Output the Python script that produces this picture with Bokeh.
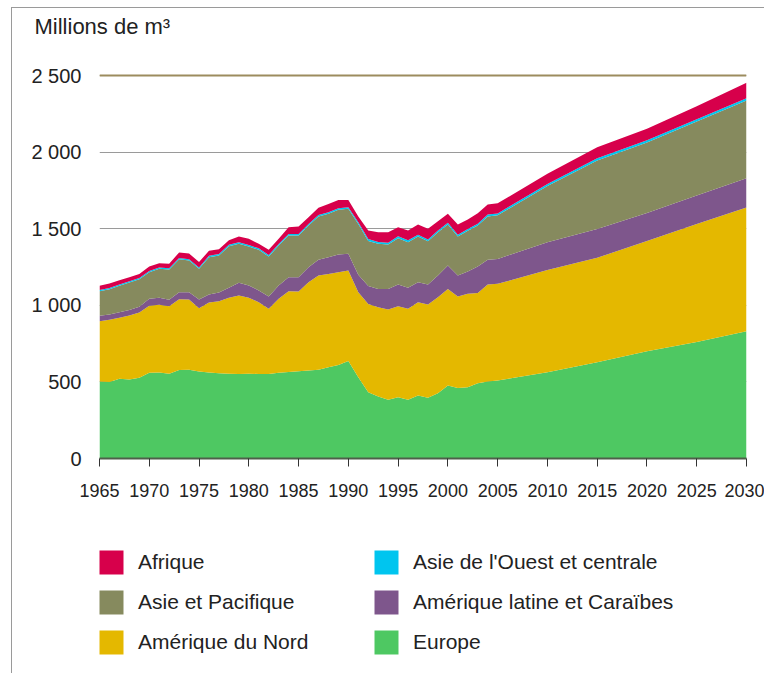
from bokeh.plotting import figure
from bokeh.layouts import column
from bokeh.models import (ColumnDataSource, Range1d, FixedTicker, Span, Legend,
                          LegendItem, InlineStyleSheet)
from bokeh.embed import file_html
from bokeh.resources import INLINE

# ---- data (millions de m3) ----
years = list(range(1965, 2006)) + [2010, 2015, 2020, 2025, 2030]

europe = [502, 500, 520, 516, 527, 559, 562, 553, 577, 579,
          568, 562, 557, 553, 552, 553, 552, 552, 560, 565,
          570, 575, 579, 596, 611, 637, 531, 433, 405, 383,
          400, 383, 411, 396, 426, 476, 461, 465, 492, 503,
          509, 563, 629, 700, 760, 831]
amerique_nord = [394, 405, 398, 417, 426, 438, 441, 441, 463, 459,
                 413, 456, 470, 497, 512, 496, 468, 425, 482, 527,
                 520, 576, 615, 609, 605, 590, 554, 575, 583, 589,
                 594, 594, 609, 609, 627, 631, 596, 610, 589, 633,
                 631, 667, 681, 720, 770, 807]
amerique_latine = [35, 35, 37, 37, 37, 45, 47, 42, 46, 48,
                   57, 52, 56, 65, 83, 80, 77, 80, 87, 91,
                   93, 98, 103, 109, 115, 109, 115, 118, 119, 135,
                   142, 137, 131, 131, 141, 153, 137, 145, 172, 161,
                   163, 182, 188, 182, 187, 191]
asie_pacifique = [161, 165, 172, 179, 180, 174, 188, 198, 215, 206,
                  200, 244, 242, 270, 254, 255, 265, 261, 261, 272,
                  272, 272, 283, 283, 292, 294, 330, 294, 294, 290,
                  302, 298, 298, 282, 283, 267, 255, 266, 268, 283,
                  285, 366, 447, 460, 483, 508]
asie_ouest = [8, 8, 8, 8, 8, 8, 8, 8, 8, 8,
              8, 10, 10, 10, 10, 10, 10, 10, 10, 10,
              10, 10, 10, 10, 10, 10, 12, 12, 12, 12,
              12, 12, 12, 12, 12, 12, 12, 12, 12, 12,
              12, 14, 15, 15, 15, 15]
afrique = [27, 29, 28, 26, 27, 29, 29, 30, 36, 38,
           36, 32, 31, 30, 38, 40, 29, 34, 34, 45,
           49, 44, 46, 55, 55, 48, 38, 56, 64, 68,
           60, 64, 66, 69, 60, 58, 66, 62, 68, 66,
           66, 66, 72, 75, 85, 101]

series_keys = ["europe", "nord", "latine", "pacifique", "ouest", "afrique"]
series_names = ["Europe", "Amérique du Nord", "Amérique latine et Caraïbes",
                "Asie et Pacifique", "Asie de l'Ouest et centrale", "Afrique"]
series_colors = ["#4ec862", "#e4b800", "#7e568c", "#868a5e", "#00c5ef", "#d7004b"]

y_ticks = [0, 500, 1000, 1500, 2000, 2500]
y_labels = ["0", "500", "1 000", "1 500", "2 000", "2 500"]
x_ticks = list(range(1965, 2031, 5))

source = ColumnDataSource(dict(year=years, europe=europe, nord=amerique_nord,
                               latine=amerique_latine, pacifique=asie_pacifique,
                               ouest=asie_ouest, afrique=afrique))

FONT = "Liberation Sans"
TEXT = "#222222"

# ---------------- main chart ----------------
p = figure(frame_width=647, frame_height=419,
           x_range=Range1d(1965, 2030), y_range=Range1d(0, 2735),
           output_backend="svg", toolbar_location=None,
           min_border_left=99, min_border_right=18,
           min_border_top=39, min_border_bottom=80,
           title="Millions de m³")
p.outline_line_color = None
p.background_fill_color = "white"
p.border_fill_color = "white"

p.title.text_font = FONT
p.title.text_font_size = "22px"
p.title.text_font_style = "normal"
p.title.text_color = TEXT
p.title.align = "left"
p.title.offset = -65
p.title.standoff = 2

renderers = p.varea_stack(stackers=series_keys, x="year", color=series_colors,
                          source=source)

p.xgrid.visible = False
p.ygrid.ticker = FixedTicker(ticks=y_ticks)
p.ygrid.grid_line_color = "#9a9a9a"
p.ygrid.grid_line_width = 1
p.add_layout(Span(location=2500, dimension="width", line_color="#9c8c5e",
                  line_width=2))

p.xaxis.ticker = FixedTicker(ticks=x_ticks)
p.xaxis.axis_line_color = "#4f5f4a"
p.xaxis.axis_line_width = 2
p.xaxis.major_tick_line_color = "#333333"
p.xaxis.major_tick_out = 8
p.xaxis.major_tick_in = 0
p.xaxis.minor_tick_line_color = None
p.xaxis.major_label_text_font = FONT
p.xaxis.major_label_text_font_size = "18px"
p.xaxis.major_label_text_color = TEXT
p.xaxis.major_label_standoff = 17

p.yaxis.ticker = FixedTicker(ticks=y_ticks)
p.yaxis.major_label_overrides = {t: l for t, l in zip(y_ticks, y_labels)}
p.yaxis.axis_line_color = None
p.yaxis.major_tick_line_color = None
p.yaxis.minor_tick_line_color = None
p.yaxis.major_label_text_font = FONT
p.yaxis.major_label_text_font_size = "20px"
p.yaxis.major_label_text_color = TEXT
p.yaxis.major_label_standoff = 12

# ---------------- legend panel ----------------
pl = figure(width=764, height=135, output_backend="svg", toolbar_location=None,
            x_range=Range1d(0, 1), y_range=Range1d(0, 1),
            x_axis_type=None, y_axis_type=None, min_border=0)
pl.outline_line_color = None
pl.grid.visible = False
pl.background_fill_color = "white"
pl.border_fill_color = "white"

# same stacked series, outside this panel's view: they only feed the legend
proxies = pl.varea_stack(stackers=series_keys, x="year", color=series_colors,
                         source=source)
proxy = dict(zip(series_names, proxies))

order = ["Afrique", "Asie et Pacifique", "Amérique du Nord",
         "Asie de l'Ouest et centrale", "Amérique latine et Caraïbes", "Europe"]
lg = Legend(items=[LegendItem(label=n, renderers=[proxy[n]]) for n in order],
            location=(-3, 16), orientation="vertical", ncols=2,
            glyph_width=30, glyph_height=30, label_height=30, label_width=223,
            spacing=10, padding=0, margin=0, label_standoff=12,
            label_text_font=FONT, label_text_font_size="21px",
            label_text_color=TEXT,
            border_line_color=None, background_fill_alpha=0)
pl.add_layout(lg, "center")

frame_css = InlineStyleSheet(css="""
:host { position: relative; }
:host::after {
  content: ""; position: absolute; left: 11px; top: 7px; right: 0; bottom: 0;
  border-left: 1px solid #9a9a9a; border-top: 1px solid #9a9a9a;
  pointer-events: none; z-index: 10;
}
""")

layout = column(p, pl, spacing=0, stylesheets=[frame_css])
open("out.html", "w").write(file_html(layout, INLINE))
